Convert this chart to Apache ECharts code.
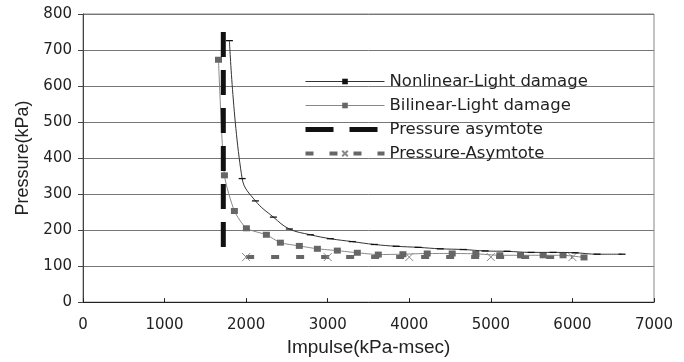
<!DOCTYPE html>
<html>
<head>
<meta charset="UTF-8">
<title>Pressure-Impulse</title>
<script src="https://cdn.jsdelivr.net/npm/echarts@6/dist/echarts.min.js"></script>
<style>
  html, body { margin: 0; padding: 0; background: #fff; }
  #chart { width: 684px; height: 362px; }
</style>
</head>
<body>
<div id="chart"></div>
<script>
// values: [impulse (kPa-msec), pressure (kPa)]
const nonlinearLight = [
  [1795, 726], [1951, 343], [2114, 281], [2334, 236], [2530, 203],
  [2787, 187], [3032, 176], [3301, 168], [3571, 160], [3840, 155],
  [4110, 152], [4379, 148], [4661, 146], [4930, 142], [5200, 141],
  [5494, 138], [5763, 138], [6032, 137], [6302, 133], [6608, 133]
];
const bilinearLight = [
  [1661, 673], [1734, 352], [1856, 253], [2003, 205], [2248, 187],
  [2420, 165], [2652, 156], [2873, 148], [3118, 143], [3363, 137],
  [3620, 132], [3922, 133], [4220, 135], [4526, 135], [4816, 134],
  [5110, 130], [5364, 130], [5641, 130], [5885, 130], [6142, 124]
];
const pressureAsymptote = [[1720, 750], [1720, 148]];
const pressureAsymptoteLine = [[2000, 125], [3000, 125], [4000, 125], [5000, 125], [6000, 125]];

const seriesNames = ['Nonlinear-Light damage', 'Bilinear-Light damage', 'Pressure asymtote', 'Pressure-Asymtote'];

const dashMark = 'path://M0,0H7V3H0Z';
const crossMark = 'path://M0,0L10,10M0,10L10,0';

const chart = echarts.init(document.getElementById('chart'));

const option = {
  backgroundColor: '#fff',
  animation: false,
  grid: { left: 83, right: 30, top: 14, bottom: 49, show: true, borderColor: '#888', borderWidth: 1 },
  legend: {
    orient: 'vertical',
    left: 298,
    top: 68,
    itemWidth: 79,
    itemHeight: 7,
    itemGap: 7,
    data: [
      { name: seriesNames[0], lineStyle: { width: 1 } },
      { name: seriesNames[1], lineStyle: { width: 1 } },
      // no marker on the thick asymptote line
      { name: seriesNames[2], lineStyle: { width: 5, type: [28, 16] }, itemStyle: { color: 'rgba(0,0,0,0)', borderWidth: 0 } },
      { name: seriesNames[3], lineStyle: { width: 4, type: [8, 16] } }
    ],
    textStyle: { fontFamily: 'DejaVu Sans', fontSize: 16.5, color: '#222' }
  },
  xAxis: {
    type: 'value',
    min: 0,
    max: 7000,
    interval: 1000,
    name: 'Impulse(kPa-msec)',
    nameLocation: 'middle',
    nameGap: 26,
    nameTextStyle: { fontFamily: 'Liberation Sans', fontSize: 19, color: '#222' },
    axisLine: { lineStyle: { color: '#222', width: 1 } },
    axisTick: { inside: true, length: 4, lineStyle: { color: '#222' } },
    axisLabel: {
      margin: 16, fontFamily: 'DejaVu Sans', fontSize: 15, color: '#222',
      formatter: v => String(v)
    },
    splitLine: { show: false }
  },
  yAxis: {
    type: 'value',
    min: 0,
    max: 800,
    interval: 100,
    name: 'Pressure(kPa)',
    nameLocation: 'middle',
    nameGap: 50,
    nameTextStyle: { fontFamily: 'Liberation Sans', fontSize: 18, color: '#222' },
    axisLine: { show: true, lineStyle: { color: '#444', width: 1 } },
    axisTick: { show: true, length: 5, lineStyle: { color: '#444' } },
    axisLabel: { margin: 11, fontFamily: 'DejaVu Sans', fontSize: 15, color: '#222' },
    splitLine: { show: true, lineStyle: { color: '#777', width: 1 } }
  },
  series: [
    {
      name: seriesNames[0],
      type: 'line',
      data: nonlinearLight,
      smooth: 0.4,
      symbol: dashMark,
      symbolSize: [7, 3],
      symbolKeepAspect: true,
      itemStyle: { color: '#111' },
      lineStyle: { color: '#333', width: 1 },
      z: 4
    },
    {
      name: seriesNames[1],
      type: 'line',
      data: bilinearLight,
      smooth: 0.2,
      symbol: 'rect',
      symbolSize: [7, 6],
      itemStyle: { color: '#666' },
      lineStyle: { color: '#888', width: 1 },
      z: 3
    },
    {
      name: seriesNames[2],
      type: 'line',
      data: pressureAsymptote,
      symbol: 'none',
      itemStyle: { color: '#111' },
      lineStyle: { color: '#111', width: 5, type: [25, 13] },
      z: 5
    },
    {
      name: seriesNames[3],
      type: 'line',
      data: pressureAsymptoteLine,
      symbol: crossMark,
      symbolSize: 8,
      itemStyle: { color: 'rgba(0,0,0,0)', borderColor: '#888', borderWidth: 1 },
      lineStyle: { color: '#666', width: 4, type: [8, 17] },
      z: 2
    }
  ]
};

chart.setOption(option);
</script>
</body>
</html>
